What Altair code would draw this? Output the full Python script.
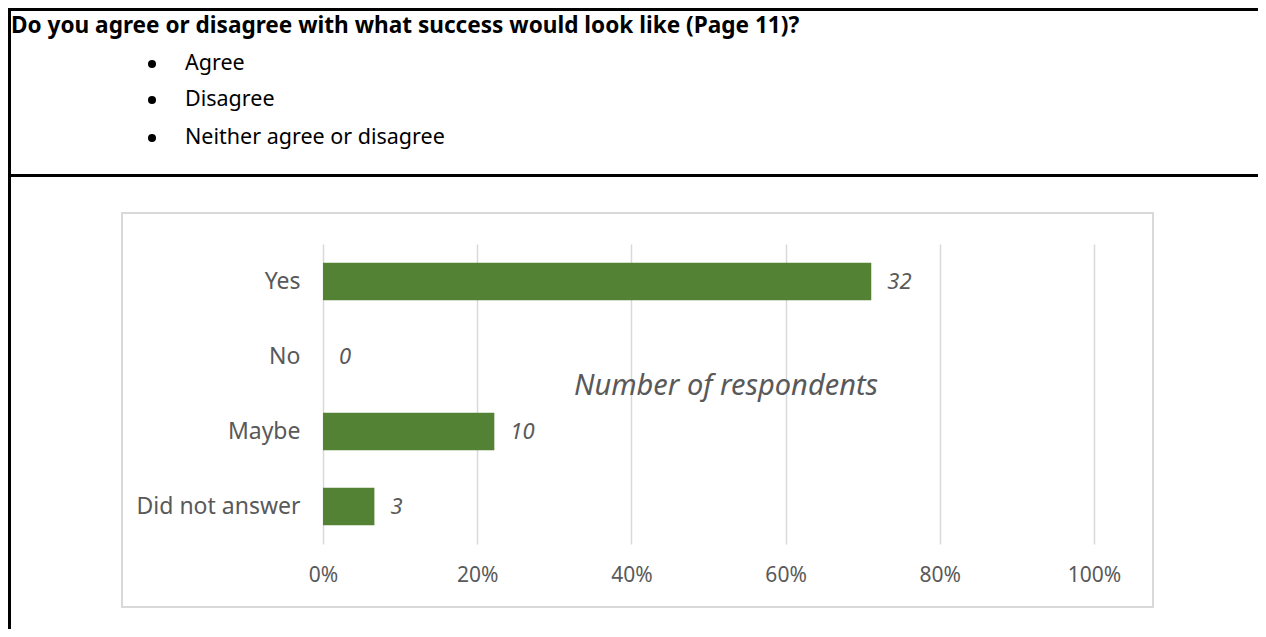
import altair as alt
import pandas as pd

# ---- data ----
categories = ["Yes", "No", "Maybe", "Did not answer"]
counts = [32, 0, 10, 3]
x_ticks = [0, 0.2, 0.4, 0.6, 0.8, 1.0]
title_text = "Do you agree or disagree with what success would look like (Page 11)?"
bullets = ["Agree", "Disagree", "Neither agree or disagree"]
series_title = "Number of respondents"

total = sum(counts)
df = pd.DataFrame({
    "category": categories,
    "count": counts,
    "share": [c / total for c in counts],
})

# ---- layout (plot area in pixels) ----
W, H = 771, 300
PL, PT, PR, PB = 315, 236, 164, 85
FONT = "Noto Sans"
GREY = "#595959"
GREEN = "#548235"
GRID = "#d9d9d9"

one = alt.Data(values=[{"a": 1}])

y_enc = alt.Y(
    "category:N", sort=categories,
    scale=alt.Scale(paddingInner=0.5, paddingOuter=0.25),
    axis=alt.Axis(title=None, ticks=False, domain=False, labelPadding=23,
                  labelFontSize=23, labelColor=GREY, labelFont=FONT),
)
x_enc = alt.X(
    "share:Q", scale=alt.Scale(domain=[0, 1]),
    axis=alt.Axis(values=x_ticks, format="%", title=None, ticks=False, domain=False,
                  grid=True, gridColor=GRID, gridWidth=1.5, labelPadding=20,
                  labelFlush=False, labelFontSize=21, labelColor=GREY, labelFont=FONT),
)

base = alt.Chart(df)
bars = base.mark_bar(color=GREEN).encode(y=y_enc, x=x_enc)
values = base.mark_text(align="left", baseline="middle", dx=16, fontStyle="italic",
                        fontSize=22, color=GREY, font=FONT).encode(
    y=alt.Y("category:N", sort=categories), x="share:Q", text="count:Q")

layers = []

# grey chart frame
layers.append(alt.Chart(one).mark_rect(fillOpacity=0, stroke=GRID, strokeWidth=2).encode(
    x=alt.value(-201), x2=alt.value(830), y=alt.value(-31), y2=alt.value(363)))

# series name
layers.append(alt.Chart(one).mark_text(fontStyle="italic", fontSize=29, color=GREY, font=FONT,
                                       baseline="middle").encode(
    x=alt.value(403), y=alt.value(142), text=alt.value(series_title)))

# table borders
layers.append(alt.Chart(one).mark_rule(color="black", strokeWidth=3).encode(
    x=alt.value(-315), x2=alt.value(W + PR), y=alt.value(-234.5)))
layers.append(alt.Chart(one).mark_rule(color="black", strokeWidth=3).encode(
    x=alt.value(-315), x2=alt.value(W + PR), y=alt.value(-68.5)))
layers.append(alt.Chart(one).mark_rule(color="black", strokeWidth=3).encode(
    x=alt.value(-313.5), y=alt.value(-236), y2=alt.value(H + PB)))

# header text
layers.append(alt.Chart(one).mark_text(align="left", baseline="middle", fontWeight="bold",
                                       fontSize=22.6, color="black", font=FONT).encode(
    x=alt.value(-312), y=alt.value(-218), text=alt.value(title_text)))

bullet_y = [-180, -144, -106]
for label, yy in zip(bullets, bullet_y):
    layers.append(alt.Chart(one).mark_circle(color="black", opacity=1, size=65).encode(
        x=alt.value(-171), y=alt.value(yy)))
    layers.append(alt.Chart(one).mark_text(align="left", baseline="middle", fontSize=21.5,
                                           color="black", font=FONT).encode(
        x=alt.value(-138), y=alt.value(yy), text=alt.value(label)))

chart = alt.layer(bars, values, *layers).properties(
    width=W, height=H,
    autosize=alt.AutoSizeParams(type="none"),
    padding={"left": PL, "top": PT, "right": PR, "bottom": PB},
    background="white",
).configure_view(stroke=None)

chart.save("out.html", embed_options={"renderer": "svg", "actions": False})
